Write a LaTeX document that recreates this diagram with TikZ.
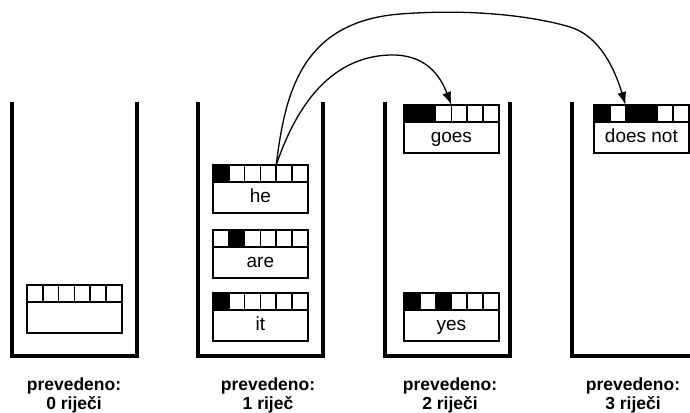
\documentclass[tikz,border=0pt]{standalone}
\usepackage{fontspec}
\setmainfont{Liberation Sans}
\usetikzlibrary{arrows.meta}
\tikzset{
  wall/.style={line width=3.2pt, line join=miter, line cap=rect},
  cellbox/.style={draw, line width=1.6pt},
  txtbox/.style={draw, line width=1.6pt, minimum width=94.8pt, minimum height=31pt,
    inner sep=0pt, outer sep=0pt, anchor=north west, text height=14pt, text depth=4pt,
    font=\fontsize{19}{22}\selectfont},
  conn/.style={line width=1.3pt, -{Latex[length=13pt,width=9pt]}},
  lbl/.style={align=center, font=\bfseries\fontsize{17.5}{19}\selectfont}
}
\newcommand\hypbox[5]{%
  \foreach \c [count=\i from 0] in {#4} {\draw[cellbox, fill=\c] (#2+\i*15.8, #3) rectangle ++(15.8,17);}
  \foreach \i in {0,...,6} {\coordinate (#1-\i) at (#2+\i*15.8,#3);}
  \node[txtbox] (#1) at (#2,#3+17) {#5};
}
\begin{document}
\begin{tikzpicture}[x=1pt,y=-1pt]
\useasboundingbox (0,0) rectangle (690,412);
\clip (0,0) rectangle (690,412);
% stacks
\draw[wall] (12,104) -- (12,356) -- (137,356) -- (137,104);
\draw[wall] (198,104) -- (198,356) -- (323,356) -- (323,104);
\draw[wall] (385,104) -- (385,356) -- (510,356) -- (510,104);
\draw[wall] (572,104) -- (572,356) -- (697,356) -- (697,104);
% hypotheses
\hypbox{e0}{27}{285}{white,white,white,white,white,white}{}
\hypbox{he}{213}{165}{black,white,white,white,white,white}{he}
\hypbox{are}{213}{230}{white,black,white,white,white,white}{are}
\hypbox{it}{213}{293}{black,white,white,white,white,white}{it}
\hypbox{goes}{404}{105}{black,black,white,white,white,white}{goes}
\hypbox{yes}{404}{293}{black,white,black,white,white,white}{yes}
\hypbox{does}{594}{105}{black,white,black,black,white,white}{does not}
% connectors
\coordinate (m1) at (390,55);
\coordinate (m2) at (400,14);
\coordinate (m3) at (570,27);
\draw[conn] (he-4) .. controls (290,125) and (320,57) .. (m1)
  .. controls (425,54) and (440,75) .. (goes-3);
\draw[conn] (he-4) .. controls (285,95) and (300,22) .. (m2)
  .. controls (480,8) and (540,18) .. (m3)
  .. controls (600,36) and (615,70) .. (does-2);
% labels
\node[lbl] (l0) at (74,395) {prevedeno:\\0 riječi};
\node[lbl] (l1) at (268,395) {prevedeno:\\1 riječ};
\node[lbl] (l2) at (450,395) {prevedeno:\\2 riječi};
\node[lbl] (l3) at (633,395) {prevedeno:\\3 riječi};
\end{tikzpicture}
\end{document}
